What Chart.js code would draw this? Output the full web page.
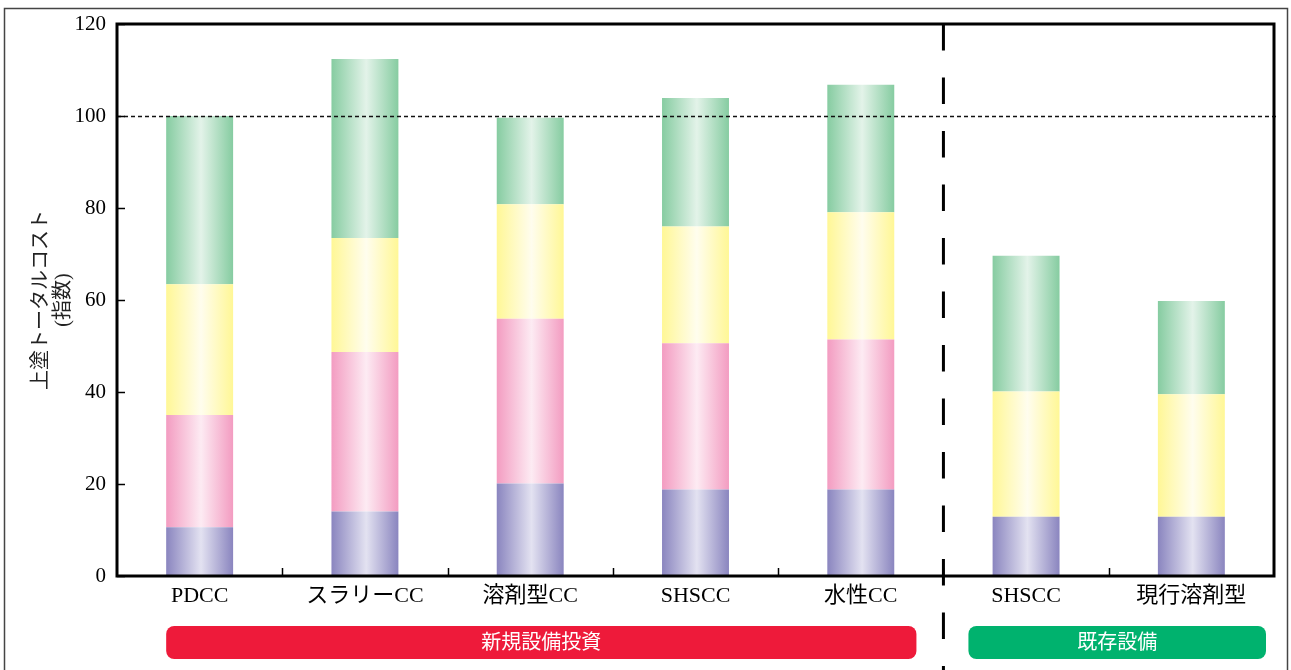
<!DOCTYPE html>
<html>
<head>
<meta charset="utf-8">
<script src="https://cdn.jsdelivr.net/npm/chart.js@4/dist/chart.umd.min.js"></script>
<style>
  html, body { margin: 0; padding: 0; background: #fff; }
  #wrap { width: 1291px; height: 670px; position: relative; }
</style>
</head>
<body>
<div id="wrap"><canvas id="c" width="1291" height="670"></canvas></div>
<script>
// Coating total cost index, broken into four stacked cost components
const categories = ['PDCC', 'スラリーCC', '溶剤型CC', 'SHSCC', '水性CC', 'SHSCC', '現行溶剤型'];
const costBlue   = [10.6, 14.0, 20.1, 18.8, 18.8, 12.9, 12.9];
const costPink   = [24.4, 34.7, 35.8, 31.8, 32.6, 0, 0];
const costYellow = [28.4, 24.8, 24.9, 25.4, 27.7, 27.2, 26.6];
const costGreen  = [36.6, 38.9, 18.8, 27.9, 27.7, 29.5, 20.3];
const yTicks = [0, 20, 40, 60, 80, 100, 120];
const referenceIndex = 100;
// groups: label, first / last category index, colour
const groupNames = ['新規設備投資', '既存設備'];
const groupFirst = [0, 5];
const groupLast  = [4, 6];
const groupColors = ['#ee1a3a', '#00b26e'];

const SERIF = "'Liberation Serif', 'Noto Sans CJK JP', serif";
const BAR_PCT = 0.405;

// horizontal cylinder-like shading: darker edges, pale centre
function shaded(edge, mid) {
  return function (ctx) {
    const chart = ctx.chart;
    const xs = chart.scales && chart.scales.x;
    if (ctx.type !== 'data' || !xs || !chart.chartArea) return edge;
    const cx = xs.getPixelForValue(ctx.dataIndex);
    const half = xs.width / categories.length * BAR_PCT / 2;
    const g = chart.ctx.createLinearGradient(cx - half, 0, cx + half, 0);
    g.addColorStop(0, edge);
    g.addColorStop(0.52, mid);
    g.addColorStop(1, edge);
    return g;
  };
}

const decorations = {
  id: 'decorations',
  beforeDraw(chart) {
    const c = chart.ctx;
    c.save();
    c.fillStyle = '#fff';
    c.fillRect(0, 0, chart.width, chart.height);
    // outer frame
    c.strokeStyle = '#444';
    c.lineWidth = 1.5;
    c.strokeRect(4.5, 8.5, chart.width - 8, chart.height + 20);
    c.restore();
  },
  afterDatasetsDraw(chart) {
    const c = chart.ctx;
    const { left, right, top, bottom } = chart.chartArea;
    const xs = chart.scales.x, ys = chart.scales.y;
    const step = xs.width / categories.length;
    c.save();
    // reference line at index 100
    const yr = Math.round(ys.getPixelForValue(referenceIndex)) + 0.5;
    c.strokeStyle = '#111';
    c.lineWidth = 1.3;
    c.setLineDash([4, 3]);
    c.beginPath(); c.moveTo(left, yr); c.lineTo(right + 4, yr); c.stroke();
    c.setLineDash([]);

    // plot frame
    c.strokeStyle = '#000';
    c.lineWidth = 3;
    c.strokeRect(left, top, right - left, bottom - top);

    // inward ticks
    c.lineWidth = 1.5;
    ys.ticks.forEach(t => {
      const y = Math.round(ys.getPixelForValue(t.value)) + 0.5;
      c.beginPath(); c.moveTo(left, y); c.lineTo(left + 8, y); c.stroke();
    });
    for (let i = 0; i < categories.length - 1; i++) {
      const x = Math.round((xs.getPixelForValue(i) + xs.getPixelForValue(i + 1)) / 2) + 0.5;
      c.beginPath(); c.moveTo(x, bottom); c.lineTo(x, bottom - 8); c.stroke();
    }

    // dashed divider between the two groups
    const xd = (xs.getPixelForValue(groupLast[0]) + xs.getPixelForValue(groupFirst[1])) / 2;
    c.lineWidth = 3;
    c.setLineDash([26.5, 27]);
    c.beginPath(); c.moveTo(xd, top); c.lineTo(xd, chart.height); c.stroke();
    c.setLineDash([]);

    // group banners
    const bw = step * BAR_PCT;
    const bannerTop = 626, bannerH = 33;
    for (let g = 0; g < groupNames.length; g++) {
      let x0, x1;
      if (g === 0) {
        x0 = xs.getPixelForValue(groupFirst[g]) - bw / 2;
        x1 = xd - 27;
      } else {
        x0 = xd + 25;
        x1 = right - 8;
      }
      c.fillStyle = groupColors[g];
      c.beginPath();
      c.roundRect(x0, bannerTop, x1 - x0, bannerH, 8);
      c.fill();
      c.fillStyle = '#fff';
      c.font = "20px " + SERIF;
      c.textAlign = 'center';
      c.textBaseline = 'middle';
      c.fillText(groupNames[g], (x0 + x1) / 2, bannerTop + bannerH / 2 + 1);
    }
    c.restore();
  }
};

new Chart(document.getElementById('c'), {
  type: 'bar',
  data: {
    labels: categories,
    datasets: [
      { data: costBlue,   backgroundColor: shaded('#8a85bf', '#e3e2f1') },
      { data: costPink,   backgroundColor: shaded('#f39cc1', '#fdebf3') },
      { data: costYellow, backgroundColor: shaded('#fff796', '#fffdee') },
      { data: costGreen,  backgroundColor: shaded('#86cca1', '#e3f3e9') }
    ].map(d => Object.assign(d, { categoryPercentage: 1, barPercentage: BAR_PCT, borderWidth: 0 }))
  },
  options: {
    responsive: false,
    animation: false,
    layout: { padding: { left: 0, top: 24, right: 17, bottom: 0 } },
    plugins: { legend: { display: false }, tooltip: { enabled: false } },
    scales: {
      x: {
        stacked: true,
        grid: { display: false, drawTicks: false },
        border: { display: false },
        ticks: { color: '#000', font: { family: SERIF, size: 22 }, padding: 7, maxRotation: 0, autoSkip: false },
        afterFit(s) { s.height = 94; }
      },
      y: {
        stacked: true,
        min: 0, max: 120,
        afterBuildTicks(s) { s.ticks = yTicks.map(v => ({ value: v })); },
        grid: { display: false, drawTicks: false },
        border: { display: false },
        ticks: { color: '#000', font: { family: SERIF, size: 21 }, padding: 11 },
        title: {
          display: true,
          text: ['上塗トータルコスト', '(指数)'],
          color: '#222',
          font: { family: SERIF, size: 20, lineHeight: 1.1 },
          padding: { top: 31, bottom: 0 }
        },
        afterFit(s) { s.width = 117; }
      }
    }
  },
  plugins: [decorations]
});
</script>
</body>
</html>
